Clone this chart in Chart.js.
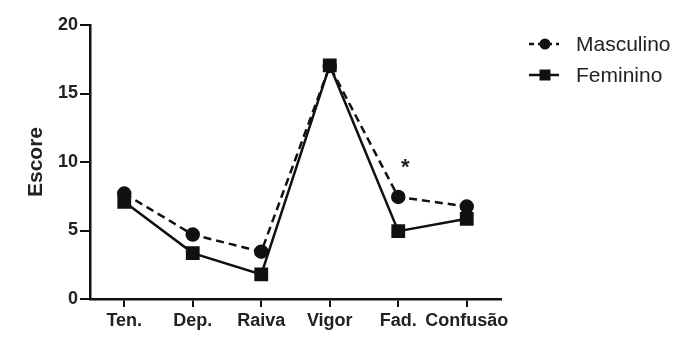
<!DOCTYPE html>
<html>
<head>
<meta charset="utf-8">
<script src="https://cdn.jsdelivr.net/npm/chart.js@4/dist/chart.umd.min.js"></script>
<style>
  html, body { margin: 0; padding: 0; background: #fff; }
  #wrap { width: 691px; height: 357px; }
</style>
</head>
<body>
<div id="wrap"><canvas id="chart" width="691" height="357"></canvas></div>
<script>
// Data
const categories = ['Ten.', 'Dep.', 'Raiva', 'Vigor', 'Fad.', 'Confusão'];
const masculino = [7.7, 4.7, 3.45, 17.0, 7.45, 6.75];
const feminino = [7.1, 3.35, 1.8, 17.05, 4.95, 5.85];
const yTicks = [0, 5, 10, 15, 20];
const starCategory = 'Fad.';
const starValue = 9.9;

const FONT = 'Liberation Sans, Arial, sans-serif';

// Asterisk above "Fad." and the legend at the right
const annotations = {
    id: 'annotations',
    afterDraw(chart) {
        const ctx = chart.ctx;
        const x = chart.scales.x.getPixelForValue(categories.indexOf(starCategory));
        const y = chart.scales.y.getPixelForValue(starValue);
        ctx.save();
        ctx.fillStyle = '#222';
        ctx.font = 'bold 22px ' + FONT;
        ctx.textAlign = 'center';
        ctx.textBaseline = 'middle';
        ctx.fillText('*', x + 7, y + 5);

        // legend
        const items = [
            { label: 'Masculino', dash: [5, 4], style: 'circle' },
            { label: 'Feminino', dash: [], style: 'rect' }
        ];
        items.forEach((it, i) => {
            const ly = 44 + i * 31;
            ctx.strokeStyle = '#111';
            ctx.lineWidth = 2.5;
            ctx.setLineDash(it.dash);
            ctx.beginPath();
            ctx.moveTo(529, ly);
            ctx.lineTo(559, ly);
            ctx.stroke();
            ctx.setLineDash([]);
            ctx.fillStyle = '#111';
            if (it.style === 'circle') {
                ctx.beginPath();
                ctx.arc(545, ly, 5.5, 0, Math.PI * 2);
                ctx.fill();
            } else {
                ctx.fillRect(539.5, ly - 5.5, 11, 11);
            }
            ctx.font = '21px ' + FONT;
            ctx.textAlign = 'left';
            ctx.fillStyle = '#222';
            ctx.fillText(it.label, 576, ly + 1);
        });
        ctx.restore();
    }
};

const ctx = document.getElementById('chart').getContext('2d');
new Chart(ctx, {
    type: 'line',
    data: {
        labels: categories,
        datasets: [
            {
                label: 'Masculino',
                data: masculino,
                borderColor: '#111',
                backgroundColor: '#111',
                borderWidth: 2.5,
                borderDash: [8, 5],
                pointStyle: 'circle',
                pointRadius: 6,
                tension: 0
            },
            {
                label: 'Feminino',
                data: feminino,
                borderColor: '#111',
                backgroundColor: '#111',
                borderWidth: 2.5,
                pointStyle: 'rect',
                pointRadius: 8,
                tension: 0
            }
        ]
    },
    options: {
        responsive: false,
        animation: false,
        layout: { padding: { left: 0, right: 190, top: 25, bottom: 0 } },
        plugins: {
            legend: { display: false },
            tooltip: { enabled: false }
        },
        scales: {
            x: {
                offset: true,
                grid: {
                    drawOnChartArea: false,
                    drawTicks: true,
                    tickLength: 8,
                    color: '#111',
                    lineWidth: 2,
                    offset: false
                },
                border: { display: true, color: '#111', width: 2.5 },
                ticks: {
                    color: '#222',
                    font: { family: FONT, size: 18, weight: 'bold' },
                    padding: 3,
                    maxRotation: 0,
                    autoSkip: false
                },
                afterFit(scale) { scale.height = 58; }
            },
            y: {
                min: 0,
                max: 20,
                afterBuildTicks(scale) {
                    scale.ticks = yTicks.map(v => ({ value: v }));
                },
                grid: {
                    drawOnChartArea: false,
                    drawTicks: true,
                    tickLength: 10,
                    color: '#111',
                    lineWidth: 2
                },
                border: { display: true, color: '#111', width: 2.5 },
                ticks: {
                    color: '#222',
                    font: { family: FONT, size: 18, weight: 'bold' },
                    padding: 2
                },
                title: {
                    display: true,
                    text: 'Escore',
                    color: '#222',
                    font: { family: FONT, size: 21, weight: 'bold' },
                    padding: { top: 24, bottom: 0 }
                },
                afterFit(scale) { scale.width = 90; }
            }
        }
    },
    plugins: [annotations]
});
</script>
</body>
</html>
